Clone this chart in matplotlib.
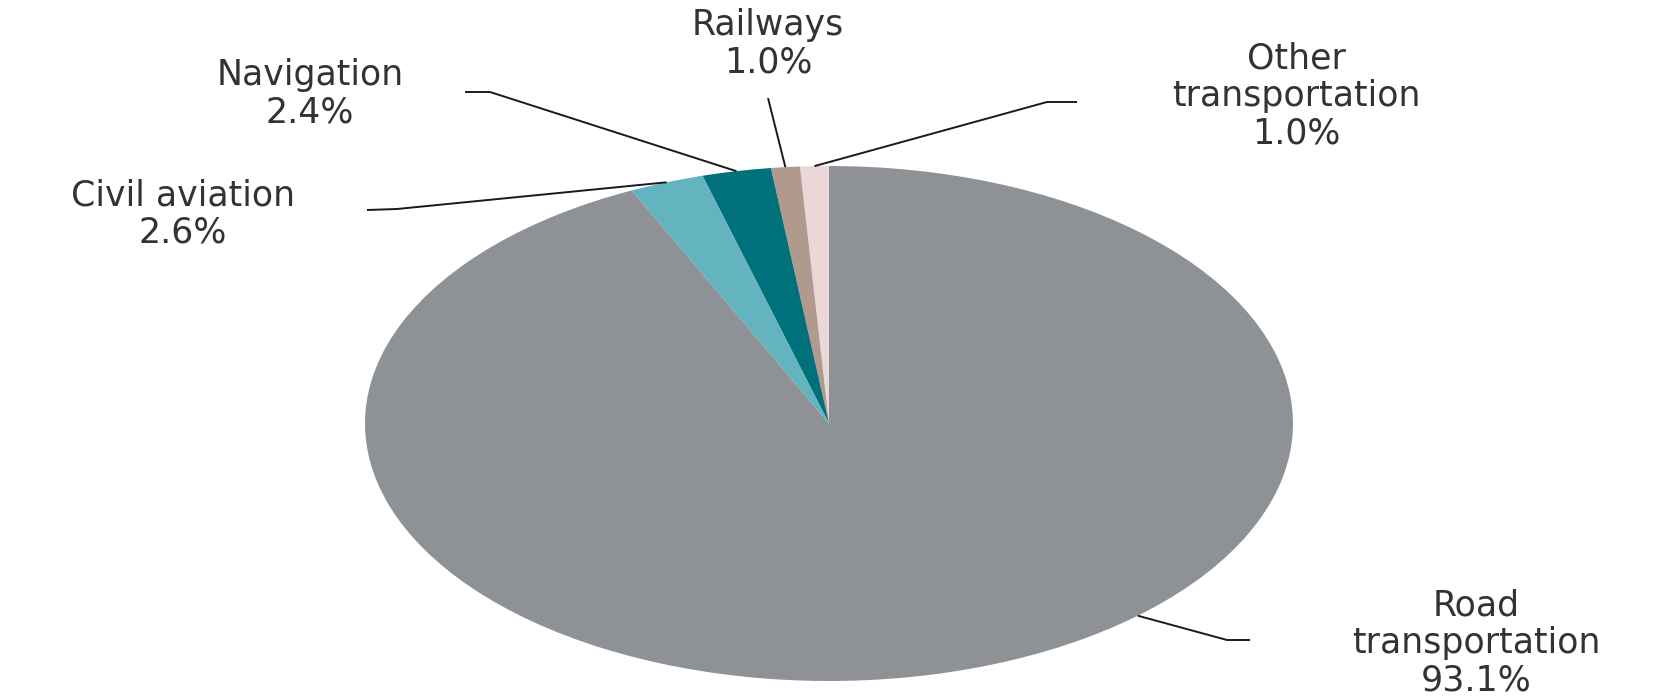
import numpy as np
import matplotlib
matplotlib.use("Agg")
import matplotlib.pyplot as plt

# shares of transport energy use (%), counter-clockwise from 12 o'clock
categories = ["Other\ntransportation", "Railways", "Navigation", "Civil aviation", "Road\ntransportation"]
shares = [1.0, 1.0, 2.4, 2.6, 93.1]
colors = ["#EAD8D8", "#B09A8E", "#00707A", "#64B4C0", "#8E9196"]

W, H = 1675, 699
fig = plt.figure(figsize=(W / 100, H / 100), dpi=100)
ax = fig.add_axes([0, 0, 1, 1])

wedges, _ = ax.pie(shares, colors=colors, startangle=90, counterclock=True,
                   radius=1.0, wedgeprops=dict(linewidth=0))

# the original picture is stretched sideways, so the pie is an ellipse
cx, cy, rx, ry = 829, 423.5, 464, 257.5
ax.set_aspect("auto")
ax.set_xlim(-cx / rx, (W - cx) / rx)
ax.set_ylim(-(H - cy) / ry, cy / ry)
ax.axis("off")


def px(x, y):
    # pixel position (y from top) -> data coords
    return (x - cx) / rx, (cy - y) / ry


# label centres, leader ends and elbows in pixels
label_pos = [(1296, 96), (768, 44), (310, 94), (183, 214), (1476, 643)]
leader_end = [(1077, 102), (768, 98), (465, 92), (367, 210), (1250, 640)]
leader_elbow = [(1047, 102), (768, 98), (490, 92), (397, 209), (1227, 640)]
anchor_frac = [0.5, 0.5, 0.5, 0.5, 0.587]

for i, w in enumerate(wedges):
    ang = np.deg2rad(w.theta1 + anchor_frac[i] * (w.theta2 - w.theta1))
    ax_, ay_ = np.cos(ang), np.sin(ang)
    ex, ey = px(*leader_end[i])
    bx, by = px(*leader_elbow[i])
    ax.plot([ex, bx, ax_], [ey, by, ay_], color="#1a1a1a", lw=1.4,
            solid_capstyle="butt")
    tx, ty = px(*label_pos[i])
    ax.text(tx, ty, f"{categories[i]}\n{shares[i]:.1f}%", ha="center", va="center",
            multialignment="center", fontsize=25, color="#333333",
            family="DejaVu Sans", linespacing=1.12)

fig.savefig("out.png", dpi=100, facecolor="white")
